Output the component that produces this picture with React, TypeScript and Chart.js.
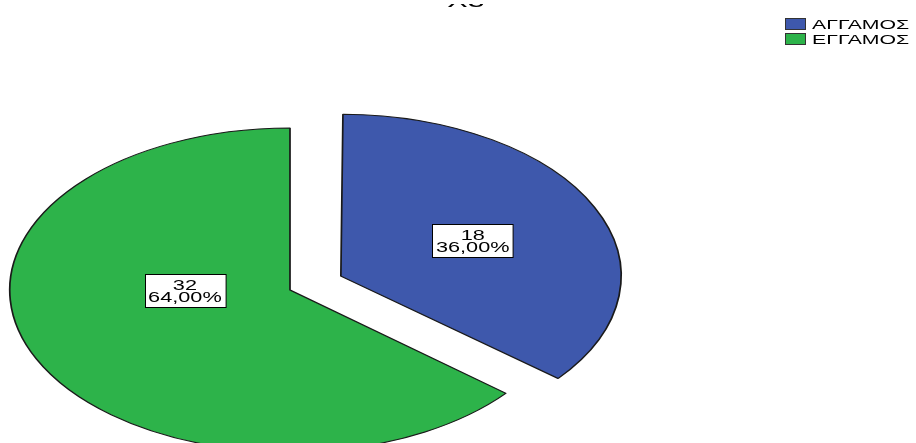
import React, { useEffect, useRef } from "react";
import { Chart, registerables } from "chart.js";

Chart.register(...registerables);

const categories = ["ΑΓΓΑΜΟΣ", "ΕΓΓΑΜΟΣ"];
const counts = [18, 32];
const titleText = "X5";
const sliceColors = ["#3E58AC", "#2DB34A"];
const explodeOffsets = [130, 0];

const SX = 1.73; // horizontal stretch of pie
const SXT = 1.55; // horizontal stretch of label text
const SXL = 1.7; // horizontal stretch of legend text
const FONT = "'Liberation Sans', Arial, sans-serif";

// label anchors: angle (null = mid-angle), fraction of radius
const labelAnchors = [
  { angle: null as number | null, frac: 0.52 },
  { angle: Math.PI, frac: 0.375 },
];

const pctText = (v: number, total: number) =>
  ((v / total) * 100).toFixed(2).replace(".", ",") + "%";

const stretchPlugin = {
  id: "stretch",
  beforeDatasetsDraw(chart: any) {
    const meta = chart.getDatasetMeta(0);
    const arc = meta.data[0];
    // Chart.js grows an exploded arc's radius by offset/4*(1-sin(circ)); undo it
    meta.data.forEach((el: any, i: number) => {
      const off = (explodeOffsets[i] || 0) / 4;
      const fix = 1 - Math.sin(Math.min(Math.PI, el.circumference || 0));
      el._origR = el.outerRadius;
      el.outerRadius = el.outerRadius - off * fix;
    });
    const ctx = chart.ctx;
    ctx.save();
    ctx.translate(arc.x, 0);
    ctx.scale(SX, 1);
    ctx.translate(-arc.x, 0);
  },
  afterDatasetsDraw(chart: any) {
    chart.ctx.restore();
    chart.getDatasetMeta(0).data.forEach((el: any) => {
      if (el._origR !== undefined) el.outerRadius = el._origR;
    });
  },
};

const decorPlugin = {
  id: "decor",
  afterDraw(chart: any) {
    const ctx = chart.ctx;
    const meta = chart.getDatasetMeta(0);
    const ds = chart.data.datasets[0];
    const values = ds.data as number[];
    const total = values.reduce((a, b) => a + b, 0);

    // slice labels
    meta.data.forEach((arc: any, i: number) => {
      const p = arc.getProps(["x", "y", "startAngle", "endAngle", "outerRadius"], true);
      const mid = (p.startAngle + p.endAngle) / 2;
      const off = (explodeOffsets[i] || 0) / 4; // Chart.js draws arcs offset by offset/4
      const cx = p.x + Math.cos(mid) * off * SX;
      const cy = p.y + Math.sin(mid) * off;
      const anchor = labelAnchors[i];
      const a = anchor.angle === null ? mid : anchor.angle;
      const lx = cx + Math.cos(a) * anchor.frac * p.outerRadius * SX;
      const ly = cy + Math.sin(a) * anchor.frac * p.outerRadius;
      const lines = [String(values[i]), pctText(values[i], total)];
      ctx.save();
      ctx.font = `14px ${FONT}`;
      const w = Math.max(...lines.map((t) => ctx.measureText(t).width)) * SXT;
      const bw = w + 7;
      const bh = 33;
      ctx.fillStyle = "#ffffff";
      ctx.strokeStyle = "#000000";
      ctx.lineWidth = 1;
      const bx = Math.round(lx - bw / 2) + 0.5;
      const by = Math.round(ly - bh / 2) + 0.5;
      ctx.fillRect(bx, by, bw, bh);
      ctx.strokeRect(bx, by, bw, bh);
      ctx.fillStyle = "#000000";
      ctx.textAlign = "center";
      ctx.textBaseline = "alphabetic";
      lines.forEach((t, k) => {
        ctx.save();
        ctx.translate(lx, ly - 0.5 + k * 12);
        ctx.scale(SXT, 1);
        ctx.fillText(t, 0, 0);
        ctx.restore();
      });
      ctx.restore();
    });

    // legend
    chart.data.labels.forEach((lab: string, i: number) => {
      const y = 18 + i * 15;
      ctx.save();
      ctx.fillStyle = sliceColors[i];
      ctx.fillRect(785, y, 21, 12);
      ctx.strokeStyle = "#333333";
      ctx.lineWidth = 1;
      ctx.strokeRect(785.5, y + 0.5, 20, 11);
      ctx.fillStyle = "#000000";
      ctx.font = `12.5px ${FONT}`;
      ctx.textAlign = "left";
      ctx.textBaseline = "alphabetic";
      ctx.translate(812, y + 11);
      ctx.scale(SXL, 1);
      ctx.fillText(lab, 0, 0);
      ctx.restore();
    });

    // title (cut off at the top of the picture)
    ctx.save();
    ctx.beginPath();
    ctx.rect(0, 4, 916, 10);
    ctx.clip();
    ctx.fillStyle = "#000000";
    ctx.font = `18px ${FONT}`;
    ctx.textAlign = "center";
    ctx.textBaseline = "alphabetic";
    ctx.translate(466, 7);
    ctx.scale(SXL, 1);
    ctx.fillText(titleText, 0, 0);
    ctx.restore();
  },
};

export default function App() {
  const ref = useRef<HTMLCanvasElement>(null);
  useEffect(() => {
    if (!ref.current) return;
    const chart = new Chart(ref.current, {
      type: "pie",
      data: {
        labels: categories,
        datasets: [
          {
            data: counts,
            backgroundColor: sliceColors,
            borderColor: "#1a1a1a",
            borderWidth: 1,
            offset: explodeOffsets,
            radius: 162,
            clip: false,
          } as any,
        ],
      },
      options: {
        animation: false,
        responsive: false,
        radius: 162,
        layout: { padding: { left: 0, right: 336, top: 137, bottom: 0 } },
        plugins: {
          legend: { display: false },
          title: { display: false },
          tooltip: { enabled: false },
        },
        events: [],
      } as any,
      plugins: [stretchPlugin, decorPlugin],
    });
    return () => chart.destroy();
  }, []);
  return (
    <div style={{ position: "fixed", left: 0, top: 0, width: 916, height: 443, background: "#fff" }}>
      <canvas ref={ref} width={916} height={443} />
    </div>
  );
}
